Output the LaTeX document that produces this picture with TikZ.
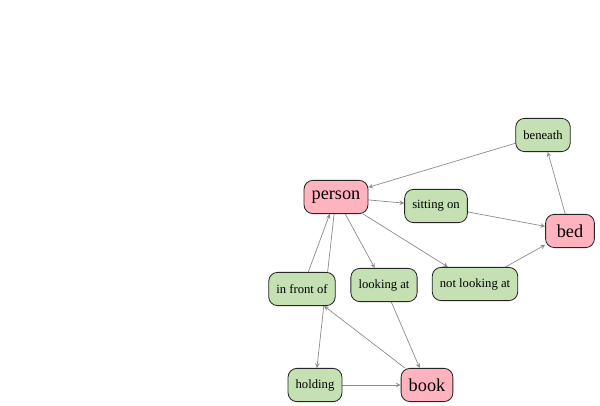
\documentclass[tikz,border=0pt]{standalone}
\usepackage{fontspec}
\setmainfont{Liberation Serif}
\usetikzlibrary{backgrounds}
\definecolor{objpink}{HTML}{FFB3BF}
\definecolor{relgreen}{HTML}{C5E1B4}
\definecolor{edgegray}{HTML}{8C8C8C}
\tikzset{
	box/.style={draw=black!85, line width=0.6pt, rounded corners=0.22cm, minimum height=0.83cm, inner xsep=0.19cm, minimum width=1.22cm},
	obj/.style={box, fill=objpink, font=\fontsize{13}{15}\selectfont},
	rel/.style={box, fill=relgreen, font=\fontsize{9}{11}\selectfont},
	link/.style={draw=edgegray, line width=0.5pt, -stealth}
}
\begin{document}
\begin{tikzpicture}[x=0.025cm, y=-0.025cm]
		%%%%% START %%%%%
		\useasboundingbox (0, 0) rectangle (600, 406);
		
		% objects
		\node[obj] (person) at (336, 197) {person};
		\node[obj] (bed) at (570, 231) {bed};
		\node[obj] (book) at (427, 385) {book};
		
		% relations
		\node[rel] (beneath) at (543, 135) {beneath};
		\node[rel] (sitting) at (436, 206) {sitting on};
		\node[rel] (front) at (302, 289) {in front of};
		\node[rel] (looking) at (384, 285) {looking at};
		\node[rel] (notlooking) at (475, 284) {not looking at};
		\node[rel] (holding) at (315, 385) {holding};
		
		\begin{pgfonlayer}{background}
		\draw[link] (beneath) -- (person);
		\draw[link] (person) -- (sitting);
		\draw[link] (sitting) -- (bed);
		\draw[link] (bed) -- (beneath);
		
		\draw[link] (person) -- (looking);
		\draw[link] (person) -- (notlooking);
		\draw[link] (notlooking) -- (bed);
		\draw[link] (looking) -- (book);
		
		\draw[link] (front) -- (person);
		\draw[link] (person) -- (holding);
		\draw[link] (holding) -- (book);
		\draw[link] (book) -- (front);
		\end{pgfonlayer}
		%%%%% END %%%%%
	\end{tikzpicture}
\end{document}
